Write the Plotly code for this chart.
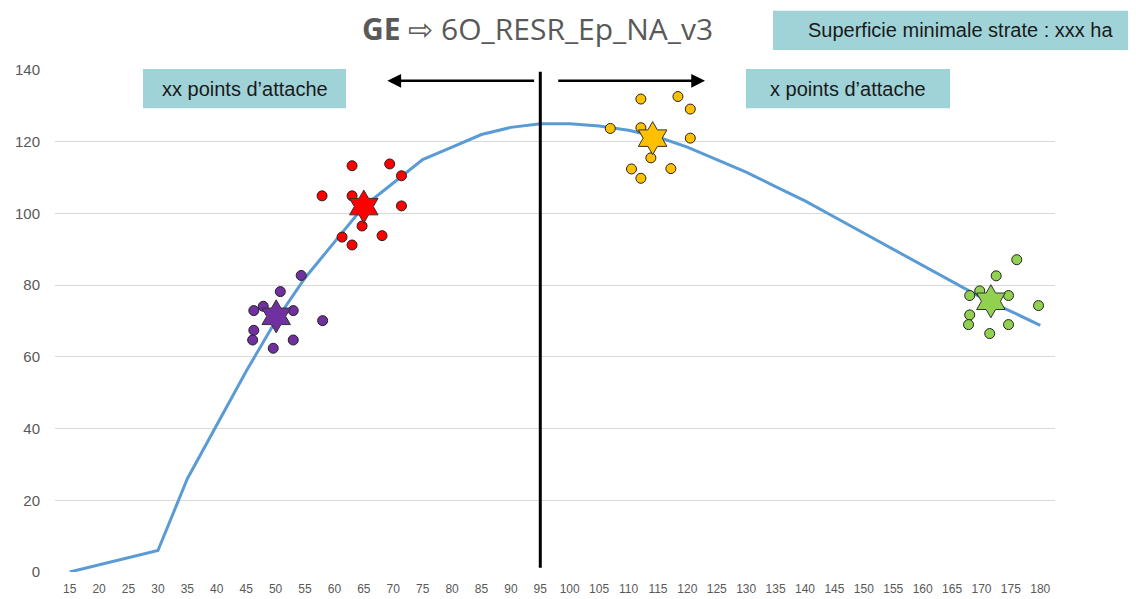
import plotly.graph_objects as go

# ---- data ----
categories = [15, 20, 25, 30, 35, 40, 45, 50, 55, 60, 65, 70, 75, 80, 85, 90, 95,
              100, 105, 110, 115, 120, 125, 130, 135, 140, 145, 150, 155, 160, 165,
              170, 175, 180]
curve = [0, 2, 4, 6, 26, 41, 56, 70, 82, 92, 102, 108.5, 115, 118.5, 122, 124, 125,
         125, 124.4, 123.2, 121.3, 118.5, 115, 111.5, 107.5, 103.5, 99, 94.5, 90,
         85.5, 81, 76.5, 72.7, 68.8]

purple_x = [54.35, 50.8, 47.9, 46.3, 53.0, 58.0, 46.3, 46.1, 53.0, 49.6]
purple_y = [82.7, 78.2, 74.1, 72.9, 72.9, 70.1, 67.4, 64.7, 64.7, 62.4]
purple_star = (50.1, 71.3)

red_x = [63.0, 69.4, 71.4, 57.9, 63.0, 71.4, 64.7, 61.3, 68.1, 63.0]
red_y = [113.3, 113.8, 110.5, 104.9, 104.9, 102.1, 96.5, 93.4, 93.8, 91.2]
red_star = (65.0, 101.9)

orange_x = [112.1, 118.4, 120.5, 106.9, 112.1, 120.5, 113.8, 110.5, 117.2, 112.1]
orange_y = [131.9, 132.6, 129.1, 123.7, 123.9, 121.0, 115.5, 112.4, 112.5, 109.8]
orange_star = (114.1, 121.0)

green_x = [176.0, 172.5, 169.7, 168.0, 174.6, 179.7, 168.0, 167.8, 174.6, 171.4]
green_y = [87.1, 82.6, 78.4, 77.1, 77.1, 74.3, 71.7, 69.0, 69.0, 66.5]
green_star = (171.6, 75.5)

y_ticks = [0, 20, 40, 60, 80, 100, 120, 140]

title_html = "<b>GE</b> ⇨ 6O_RESR_Ep_NA_v3"
box_top = "Superficie minimale strate : xxx ha"
box_left = "xx points d’attache"
box_right = "x points d’attache"
split_x = 95

# ---- figure ----
fig = go.Figure()

fig.add_trace(go.Scatter(x=categories, y=curve, mode="lines",
                         line=dict(color="#5B9BD5", width=3), hoverinfo="skip"))

groups = [
    (purple_x, purple_y, purple_star, "#7030A0"),
    (red_x, red_y, red_star, "#FF0000"),
    (orange_x, orange_y, orange_star, "#FFC000"),
    (green_x, green_y, green_star, "#92D050"),
]
for gx, gy, star, col in groups:
    fig.add_trace(go.Scatter(x=gx, y=gy, mode="markers",
                             marker=dict(symbol="circle", size=10, color=col,
                                         line=dict(color="#222222", width=1))))
    fig.add_trace(go.Scatter(x=[star[0]], y=[star[1]], mode="markers",
                             marker=dict(symbol="hexagram", size=25, color=col,
                                         line=dict(color="#333333", width=1))))

# vertical separator
fig.add_shape(type="line", x0=split_x, x1=split_x, y0=1.2, y1=139.5,
              xref="x", yref="y", line=dict(color="black", width=3))

# arrows
fig.add_annotation(x=69.0, y=137, ax=94.2, ay=137, xref="x", yref="y",
                   axref="x", ayref="y", showarrow=True, arrowhead=2,
                   arrowsize=1.1, arrowwidth=2.5, arrowcolor="black", text="")
fig.add_annotation(x=123.0, y=137, ax=97.8, ay=137, xref="x", yref="y",
                   axref="x", ayref="y", showarrow=True, arrowhead=2,
                   arrowsize=1.1, arrowwidth=2.5, arrowcolor="black", text="")

# text boxes
box_col = "#A0D3D8"
fig.add_shape(type="rect", xref="paper", yref="paper", x0=0.088, x1=0.291,
              y0=0.924, y1=1.002, fillcolor=box_col, line=dict(width=0), layer="above")
fig.add_shape(type="rect", xref="paper", yref="paper", x0=0.691, x1=0.895,
              y0=0.924, y1=1.002, fillcolor=box_col, line=dict(width=0), layer="above")
fig.add_shape(type="rect", xref="paper", yref="paper", x0=0.718, x1=1.085,
              y0=1.040, y1=1.118, fillcolor=box_col, line=dict(width=0), layer="above")

txt_font = dict(family="Liberation Sans, Arial", size=20, color="#1a1a1a")
fig.add_annotation(x=0.1895, y=0.963, xref="paper", yref="paper", text=box_left,
                   xanchor="center", yanchor="middle", showarrow=False, font=txt_font)
fig.add_annotation(x=0.793, y=0.963, xref="paper", yref="paper", text=box_right,
                   xanchor="center", yanchor="middle", showarrow=False, font=txt_font)
fig.add_annotation(x=0.905, y=1.079, xref="paper", yref="paper", text=box_top,
                   xanchor="center", yanchor="middle", showarrow=False,
                   font=dict(family="Liberation Sans, Arial", size=20, color="#1a1a1a"))
fig.add_annotation(x=0.482, y=1.082, xref="paper", yref="paper", text=title_html,
                   xanchor="center", yanchor="middle", showarrow=False,
                   font=dict(family="Open Sans, Noto Sans", size=30, color="#595959"))

# page body has an 8px margin: figure sized to fit the viewport
fig.update_layout(
    width=1128, height=591,
    margin=dict(l=47, r=81, t=62, b=26.5, autoexpand=False),
    paper_bgcolor="white", plot_bgcolor="white",
    showlegend=False,
    xaxis=dict(range=[12.5, 182.5], tickmode="array", tickvals=categories,
               ticktext=[str(c) for c in categories], showgrid=False, zeroline=False,
               showline=False, ticks="", ticklabelstandoff=8, automargin=False,
               tickfont=dict(family="Liberation Sans, Arial", size=12, color="#595959")),
    yaxis=dict(range=[0, 140], tickmode="array", tickvals=y_ticks,
               showgrid=True, gridcolor="#D9D9D9", gridwidth=1, zeroline=False,
               showline=False, ticks="", ticklabelstandoff=14, automargin=False,
               tickfont=dict(family="Liberation Sans, Arial", size=15, color="#595959")),
)

fig.write_html("out.html")
